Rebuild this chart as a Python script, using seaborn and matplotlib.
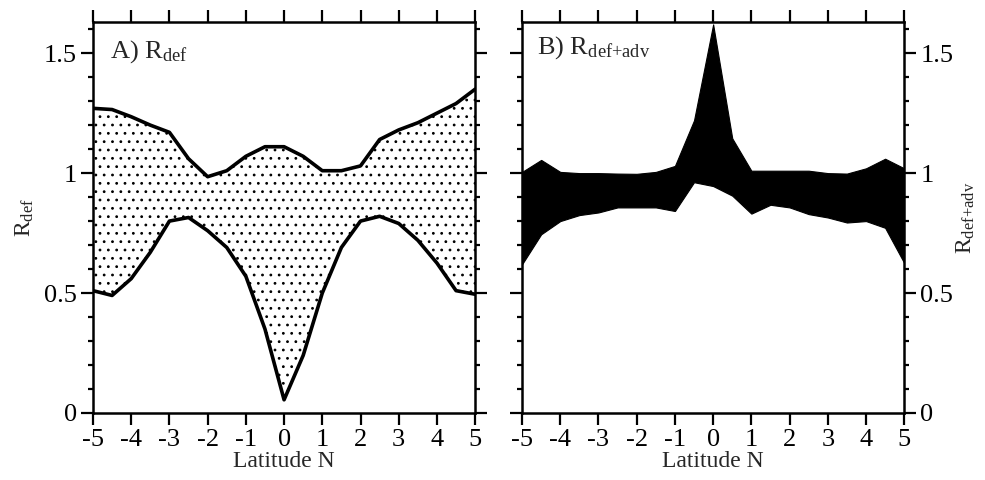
import numpy as np
import pandas as pd
import matplotlib
matplotlib.use("Agg")
import matplotlib.pyplot as plt
from matplotlib.ticker import MultipleLocator
import seaborn as sns

# Latitude grid (degrees N)
latitude = [-5.0, -4.5, -4.0, -3.5, -3.0, -2.5, -2.0, -1.5, -1.0, -0.5, 0.0,
            0.5, 1.0, 1.5, 2.0, 2.5, 3.0, 3.5, 4.0, 4.5, 5.0]

# Panel A: range of R_def
rdef_upper = [1.27, 1.265, 1.235, 1.20, 1.17, 1.06, 0.985, 1.01, 1.07, 1.11, 1.11,
              1.07, 1.01, 1.01, 1.03, 1.14, 1.18, 1.21, 1.25, 1.29, 1.35]
rdef_lower = [0.51, 0.49, 0.56, 0.67, 0.80, 0.815, 0.76, 0.69, 0.57, 0.35, 0.055,
              0.24, 0.50, 0.69, 0.80, 0.82, 0.79, 0.72, 0.625, 0.51, 0.495]

# Panel B: range of R_def+adv
radv_upper = [1.005, 1.055, 1.005, 1.0, 1.0, 0.998, 0.997, 1.005, 1.03, 1.22, 1.62,
              1.145, 1.01, 1.01, 1.01, 1.01, 1.0, 0.998, 1.02, 1.06, 1.02]
radv_lower = [0.62, 0.745, 0.80, 0.825, 0.836, 0.857, 0.857, 0.857, 0.842, 0.962, 0.946,
              0.906, 0.831, 0.868, 0.857, 0.829, 0.815, 0.794, 0.80, 0.772, 0.625]

x_ticks = [-5, -4, -3, -2, -1, 0, 1, 2, 3, 4, 5]
y_ticks = [0, 0.5, 1, 1.5]
y_tick_labels = ["0", "0.5", "1", "1.5"]

sns.set_theme(style="ticks")
plt.rcParams["font.family"] = ["Liberation Serif", "DejaVu Serif"]
plt.rcParams["mathtext.fontset"] = "custom"
plt.rcParams["mathtext.rm"] = "Liberation Serif"
plt.rcParams["mathtext.it"] = "Liberation Serif:italic"
plt.rcParams["axes.unicode_minus"] = False
plt.rcParams["hatch.linewidth"] = 0.8
plt.rcParams["hatch.color"] = "black"

FS = 17       # axis titles
FS_TICK = 19  # tick labels
FS_PANEL = 19 # panel tags

df_a = pd.DataFrame({"lat": latitude, "upper": rdef_upper, "lower": rdef_lower})
df_b = pd.DataFrame({"lat": latitude, "upper": radv_upper, "lower": radv_lower})

fig = plt.figure(figsize=(9.85, 4.8), dpi=100)
ax_a = fig.add_axes([0.0944, 0.1396, 0.388, 0.8146])
ax_b = fig.add_axes([0.530, 0.1396, 0.388, 0.8146])


def style_axes(ax):
    ax.set_xlim(-5, 5)
    ax.set_ylim(0, 1.63)
    ax.set_xticks(x_ticks)
    ax.set_xticklabels([str(t) for t in x_ticks], fontsize=FS_TICK)
    ax.set_yticks(y_ticks)
    ax.yaxis.set_minor_locator(MultipleLocator(0.1))
    for s in ax.spines.values():
        s.set_visible(True)
        s.set_linewidth(1.8)
        s.set_color("black")
    ax.tick_params(axis="both", which="major", direction="out", length=8.5,
                   width=1.6, colors="black", labelsize=FS_TICK, pad=3)
    ax.tick_params(axis="y", which="minor", direction="out", length=3.5,
                   width=1.6, colors="black")
    ax.tick_params(axis="x", which="both", top=True, labeltop=False)
    ax.set_xlabel("Latitude N", fontsize=FS, labelpad=0)
    ax.set_facecolor("white")


# Panel A: stippled band between the bounds
ax_a.fill_between(df_a["lat"], df_a["lower"], df_a["upper"], facecolor="white",
                  edgecolor="black", hatch="..", linewidth=0)
sns.lineplot(data=df_a, x="lat", y="upper", ax=ax_a, color="black", linewidth=2.6)
sns.lineplot(data=df_a, x="lat", y="lower", ax=ax_a, color="black", linewidth=2.6)
style_axes(ax_a)
ax_a.set_yticklabels(y_tick_labels, fontsize=FS_TICK)
ax_a.tick_params(axis="y", which="both", left=True, right=True,
                 labelleft=True, labelright=False)
ax_a.set_ylabel(r"R$_{\rm def}$", fontsize=FS, labelpad=6)
ax_a.text(0.045, 0.91, r"A) R$_{\rm def}$", transform=ax_a.transAxes,
          fontsize=FS_PANEL, ha="left", va="baseline")

# Panel B: solid band between the bounds
ax_b.fill_between(df_b["lat"], df_b["lower"], df_b["upper"], facecolor="black",
                  edgecolor="black", linewidth=0.8)
style_axes(ax_b)
ax_b.set_yticklabels(y_tick_labels, fontsize=FS_TICK)
ax_b.tick_params(axis="y", which="both", left=True, right=True,
                 labelleft=False, labelright=True)
ax_b.yaxis.set_label_position("right")
ax_b.set_ylabel(r"R$_{\rm def{+}adv}$", fontsize=FS, labelpad=1)
ax_b.text(0.04, 0.92, r"B) R$_{\rm def{+}adv}$", transform=ax_b.transAxes,
          fontsize=FS_PANEL, ha="left", va="baseline")

fig.savefig("out.png", dpi=100, facecolor="white")
